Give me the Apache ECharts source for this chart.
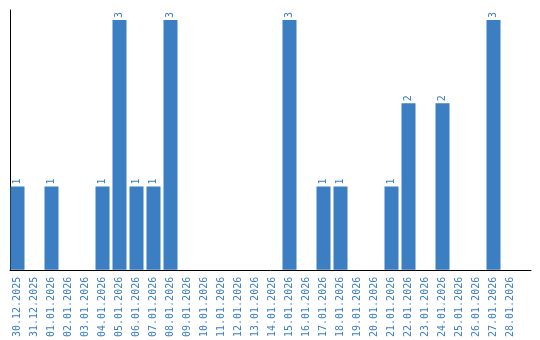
<!DOCTYPE html>
<html>
<head>
<meta charset="utf-8">
<script src="https://cdn.jsdelivr.net/npm/echarts@6/dist/echarts.min.js"></script>
<style>html,body{margin:0;padding:0;background:#fff;}#c{width:540px;height:340px;}</style>
</head>
<body>
<div id="c"></div>
<script>
const categories = ['30.12.2025','31.12.2025','01.01.2026','02.01.2026','03.01.2026','04.01.2026','05.01.2026','06.01.2026','07.01.2026','08.01.2026','09.01.2026','10.01.2026','11.01.2026','12.01.2026','13.01.2026','14.01.2026','15.01.2026','16.01.2026','17.01.2026','18.01.2026','19.01.2026','20.01.2026','21.01.2026','22.01.2026','23.01.2026','24.01.2026','25.01.2026','26.01.2026','27.01.2026','28.01.2026'];
const values = [1,0,1,0,0,1,3,1,1,3,0,0,0,0,0,0,3,0,1,1,0,0,1,2,0,2,0,0,3,0];

const blue = '#3b7ec2';
const font = 'DejaVu Sans Mono';
const chart = echarts.init(document.getElementById('c'), null, {renderer:'canvas'});
chart.setOption({
  animation:false,
  grid:[
    {left:9, width:510, top:10, bottom:70},
    {left:10, right:9, top:10, bottom:70}
  ],
  xAxis:[
    {type:'category', gridIndex:0, data:categories,
     axisLine:{show:false}, axisTick:{show:false},
     axisLabel:{rotate:90, interval:0, color:blue, fontFamily:font, fontSize:10, margin:7}},
    {type:'value', gridIndex:1, min:0, max:1,
     axisLine:{show:true, lineStyle:{color:'#000', width:1}}, axisTick:{show:false},
     axisLabel:{show:false}, splitLine:{show:false}}
  ],
  yAxis:[
    {type:'value', gridIndex:0, min:0, max:3.12, axisLine:{show:false}, axisTick:{show:false},
     axisLabel:{show:false}, splitLine:{show:false}},
    {type:'value', gridIndex:1, min:0, max:1, axisLine:{show:true, lineStyle:{color:'#000', width:1}}, axisTick:{show:false},
     axisLabel:{show:false}, splitLine:{show:false}}
  ],
  series:[{
    type:'bar', xAxisIndex:0, yAxisIndex:0, data:values, barWidth:14,
    itemStyle:{color:blue},
    label:{show:true, position:'top', rotate:90, align:'left', verticalAlign:'middle', distance:2,
      color:blue, fontFamily:font, fontSize:10,
      formatter:p => p.value ? String(p.value) : ''}
  }]
});
</script>
</body>
</html>
